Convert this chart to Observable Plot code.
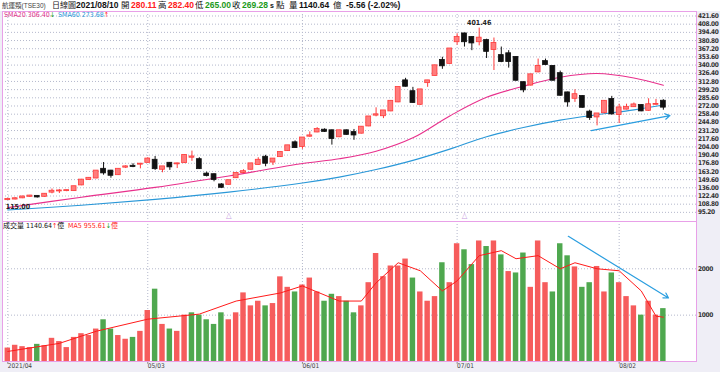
<!DOCTYPE html>
<html><head><meta charset="utf-8">
<script src="https://cdn.jsdelivr.net/npm/d3@7"></script>
<script src="https://cdn.jsdelivr.net/npm/@observablehq/plot@0.6"></script>
<style>
html,body{margin:0;padding:0;background:#fff;}
#wrap{position:relative;width:720px;height:372px;overflow:hidden;background:#efeef6;font-family:"Liberation Sans","Noto Sans CJK TC",sans-serif;}
#hdr{position:absolute;left:0;top:0;width:720px;height:11px;background:#fff;}
.t{position:absolute;top:0px;font-size:8.5px;font-weight:bold;line-height:11px;white-space:nowrap;color:#111;}
.lg{position:absolute;font-size:7px;line-height:9px;white-space:nowrap;font-family:"DejaVu Sans Condensed","Noto Sans CJK TC",sans-serif;}
#topPanel{position:absolute;left:0;top:10px;}
#botPanel{position:absolute;left:0;top:221px;}
.yax text{letter-spacing:-0.35px;}
</style></head><body>
<div id="wrap">
  <div id="hdr">
    <span class="t" style="left:2px;font-weight:normal;font-size:6.5px;color:#444">航運類(TSE30)</span>
    <span class="t" style="left:52px;font-weight:normal;font-size:8px;color:#222">日線圖</span>
    <span class="t" style="left:76px">2021/08/10</span>
    <span class="t" style="left:121px;font-weight:normal">開</span>
    <span class="t" style="left:131px;color:#ff2020">280.11</span>
    <span class="t" style="left:158px;font-weight:normal">高</span>
    <span class="t" style="left:168px;color:#ff2020">282.40</span>
    <span class="t" style="left:195px;font-weight:normal">低</span>
    <span class="t" style="left:205px;color:#1a9a1a">265.00</span>
    <span class="t" style="left:232px;font-weight:normal">收</span>
    <span class="t" style="left:242px;color:#1a9a1a">269.28</span>
    <span class="t" style="left:270px;font-size:7px">s</span>
    <span class="t" style="left:276px;font-weight:normal">點</span>
    <span class="t" style="left:289px;font-weight:normal">量</span>
    <span class="t" style="left:299px">1140.64</span>
    <span class="t" style="left:333px;font-weight:normal">億</span>
    <span class="t" style="left:346px">-5.56 (-2.02%)</span>
  </div>
  <div id="topPanel"></div>
  <div id="botPanel"></div>
  <span class="lg" style="left:4px;top:11px;color:#e0308a">SMA20 306.40<span style="color:#1a9a1a">↓</span></span>
  <span class="lg" style="left:58px;top:11px;color:#2a98d8">SMA60 273.68<span style="color:#ff2020">↑</span></span>
  <span class="lg" style="left:3px;top:222px;color:#111">成交量 1140.64<span style="color:#ff2020">↑</span>億</span>
  <span class="lg" style="left:68px;top:222px;color:#ff2020">MA5 955.61<span style="color:#1a9a1a">↓</span>億</span>
</div>
<script>
// ---- data ----
const open  = [115.5,116.5,118.5,121,122,121,128,130,130.5,130.5,140,149,151.5,167,164,157,169.5,172,174.5,177.5,182,166,177,175,177,186,183,159,158,141,141,152,160.5,166,174,187,178,187,197,211,204,221,228,232,231,220,231,228,226,238,256,255,263,278,314,296,274,310,322,348,342,378,392,386,378,381,365,356,359,353,311,306,328,346,338,326,294,284,288,262,253,260,283,257,266,270,273,264,274,280.11];
const high  = [118.5,119.5,122,123.5,122.5,126,134,133,132,138.5,150,153,164.5,178,165,167.5,172.5,176,176,186,188,171.5,178,177,190.5,197,186,162,159,143,148.5,160.5,166,176.5,186,190,184.5,195.5,206.5,214,219.5,229,236,234,232,231.5,232,233,237.5,254.5,269,264.5,280.5,303.5,318,303,299.5,314.5,339.5,353,367.5,392,393,387,401.46,383,385,370,364,354,312,324.5,350,350,339,330,295,299,289,265,259.5,280.5,288,275,275,277,274,284,283,282.40];
const low   = [115,116,118,120,119,120.5,126,126.5,129.5,130,139.5,148.5,151,157,152,156.5,168,169.5,167.5,177,165,161,165,168,176.5,180,166.5,154,146,135,140.5,151.5,159.5,165.5,173.5,171,173,186.5,196.5,201.5,200,220,227.5,228,207,219.5,223.5,215,225.5,237.5,254,251,262.5,277.5,303.5,276.5,273,303,321.5,333,341.5,373,370,364,372,351,331,344,335,313,294,305,327,339,313.5,288,270,278,268.5,248,239,259,257,243,265.5,269.5,262.5,263,273.5,265.00];
const close = [117,118,121,122.5,120,125.5,130.5,131,131.5,138,149,152,164,160,156,167,171,170.5,175.5,184,167,171,170,176,190,187.5,167,155.5,149,136,148,160,163,176,182,176,184,195,206,202,219,222.5,233,229,217,231,224,223,237,254,257.5,264,280,303,304,277,299,314,339,338,367,386,378,376,385,362,376,345,345,314,298,324,338,340,314,289,278,291,269,252,259,280,258,269,270,274,263,274.3,274.84,269.28];
const volume = [290,350,320,300,370,340,500,430,300,520,600,560,700,900,700,560,480,520,650,1100,1560,800,700,650,1000,1050,1000,900,800,1050,900,1050,1480,1200,1300,1200,1250,1826,1600,1500,1650,1800,1500,1300,1450,1400,1300,1050,1200,1700,2330,1830,2060,2060,2210,1800,1500,1300,1400,2130,1700,2540,2410,2090,2600,2480,2600,2300,1940,1910,2340,1600,2600,1700,1500,2540,2280,2040,1600,1700,2050,1500,1910,1700,1400,1200,1000,1300,1000,1140.64];
const sma20Idx = [0,10,20,30,40,45,50,55,60,65,70,75,80,85,89];
const sma20Val = [103.1,120.4,136.7,155.7,176.3,184.3,196.8,219.1,255.5,286.4,304.9,319.8,326,318.5,306.4];
const sma60Val = [99.0,107.0,116.8,128.9,143.9,153.7,166.3,181.6,200.3,221.0,236.2,248.5,257.5,265.6,273.68];
const ma5Idx = [0,7,12,19,26,31,37,40,45,48,50,53,56,59,61,64,67,69,72,75,77,80,83,86,88,89];
const ma5Val = [217,391,652,913,1022,1304,1478,1630,1304,1304,1696,2130,1957,1522,1739,2283,2391,2217,2283,2000,2130,2000,1957,1522,978,955.61];
const monthIdx = [0,19,40,61,83];
const monthLabels = ["2021/04","05/03","06/01","07/01","08/02"];
const priceTicks = d3.range(25).map(k => 95.2 + 13.6 * k);
const volTicks = [1000, 2000];
const markIdx = [30, 62];
const upArrow = [{x1: 79.2, y1: 231.2, x2: 89.9, y2: 256.1}];
const volArrow = [{x1: 76.1, y1: 2700, x2: 89.7, y2: 1370}];

// ---- drawing ----
const RED = "#ff3a3a", UPFILL = "#ff7c7c", BLACK = "#111111";
const VRED = "#f65c5c", VGREEN = "#4fa84f";
const PINK = "#e8a0e8", GRID = "#b4b8cc";
const candles = open.map((o, i) => ({i, o, h: high[i], l: low[i], c: close[i], v: volume[i],
  up: close[i] >= o, volUp: i === 0 || close[i] >= close[i - 1]}));
const xDom = [-0.72, 93.5];
const common = {width: 720, marginLeft: 2, marginRight: 24, style: {background: "transparent", overflow: "visible", fontFamily: "DejaVu Sans Condensed, sans-serif"}};
const axisOpts = {anchor: "right", tickSize: 0, tickPadding: 1.5, fontSize: 6.5, fontWeight: "bold", fill: "#333", label: null, className: "yax"};

const topChart = Plot.plot({
  ...common, height: 212, marginTop: 1, marginBottom: 1,
  x: {domain: xDom, axis: null},
  y: {domain: [80.0, 429.08], axis: null},
  marks: [
    Plot.frame({fill: "white", stroke: null}),
    Plot.gridY(priceTicks, {stroke: GRID, strokeOpacity: 1, strokeDasharray: "1 2"}),
    Plot.gridX(monthIdx, {stroke: GRID, strokeOpacity: 1, strokeDasharray: "1 2"}),
    Plot.line(sma60Val.map((v, k) => ({x: sma20Idx[k], y: v})), {x: "x", y: "y", stroke: "#2a98d8", strokeWidth: 1.1, curve: "catmull-rom"}),
    Plot.line(sma20Val.map((v, k) => ({x: sma20Idx[k], y: v})), {x: "x", y: "y", stroke: "#e8308c", strokeWidth: 1.1, curve: "catmull-rom"}),
    Plot.ruleX(candles, {x: "i", y1: "l", y2: "h", stroke: d => d.up ? RED : BLACK, strokeWidth: 1}),
    Plot.rect(candles, {x1: d => d.i - 0.33, x2: d => d.i + 0.33, y1: d => Math.min(d.o, d.c), y2: d => Math.max(d.o, d.c) + 0.6, fill: d => d.up ? UPFILL : BLACK, stroke: d => d.up ? RED : BLACK, strokeWidth: 0.8}),
    Plot.arrow(upArrow, {x1: "x1", y1: "y1", x2: "x2", y2: "y2", stroke: "#2a9ee0", strokeWidth: 1.2, headLength: 7, bend: 0}),
    Plot.text([64], {x: d => d, y: high[64], text: () => high[64].toFixed(2), dy: -5, fontSize: 7, fontWeight: "bold", fill: "#222"}),
    Plot.text([0], {x: d => d, y: low[0], text: () => low[0].toFixed(2), dy: 6, dx: -2, textAnchor: "start", fontSize: 7, fontWeight: "bold", fill: "#222"}),
    Plot.text(markIdx, {x: d => d, frameAnchor: "bottom", dy: -4, text: () => "△", fontSize: 8, fill: "#c8a0e0"}),
    Plot.axisY(priceTicks, {...axisOpts, tickFormat: d => d.toFixed(2)}),
    Plot.frame({stroke: PINK, strokeWidth: 1})
  ]
});
document.getElementById("topPanel").appendChild(topChart);

const botChart = Plot.plot({
  ...common, height: 151, marginTop: 0, marginBottom: 11,
  x: {domain: xDom, axis: null},
  y: {domain: [0, 3020], axis: null},
  marks: [
    Plot.frame({fill: "white", stroke: null}),
    Plot.gridY(volTicks, {stroke: GRID, strokeOpacity: 1, strokeDasharray: "1 2"}),
    Plot.gridX(monthIdx, {stroke: GRID, strokeOpacity: 1, strokeDasharray: "1 2"}),
    Plot.rect(candles, {x1: d => d.i - 0.37, x2: d => d.i + 0.37, y1: 0, y2: "v", fill: d => d.volUp ? VRED : VGREEN}),
    Plot.line(ma5Val.map((v, k) => ({x: ma5Idx[k], y: v})), {x: "x", y: "y", stroke: "#ff1a1a", strokeWidth: 1}),
    Plot.arrow(volArrow, {x1: "x1", y1: "y1", x2: "x2", y2: "y2", stroke: "#2a9ee0", strokeWidth: 1.2, headLength: 7, bend: 0}),
    Plot.axisY(volTicks, {...axisOpts, tickFormat: d => String(d)}),
    Plot.ruleX(monthIdx, {x: d => d, y1: 0, y2: -60, stroke: "#888"}),
    Plot.text(monthIdx, {x: d => d, frameAnchor: "bottom", dy: 6, text: (d, k) => monthLabels[k], textAnchor: "start", fontSize: 6.5, fill: "#444"}),
    Plot.frame({stroke: PINK, strokeWidth: 1})
  ]
});
document.getElementById("botPanel").appendChild(botChart);
</script>
</body></html>
